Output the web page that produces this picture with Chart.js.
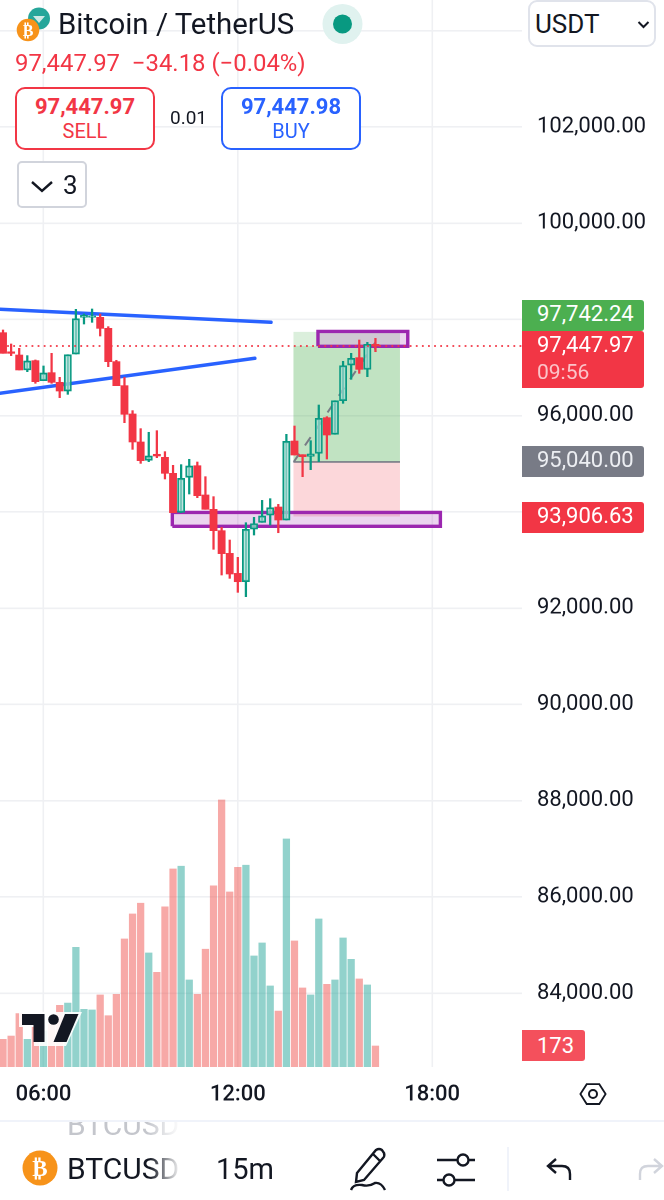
<!DOCTYPE html>
<html>
<head>
<meta charset="utf-8">
<script src="https://cdn.jsdelivr.net/npm/chart.js@4"></script>
<style>
html,body{margin:0;padding:0;background:#fff;width:664px;height:1200px;overflow:hidden;font-family:Roboto,sans-serif;color:#131722}
#wrap{position:relative;width:664px;height:1200px;overflow:hidden}
canvas{position:absolute;left:0;top:0}
.a{position:absolute;white-space:nowrap}
.tag{position:absolute;left:522px;width:122px;color:#fff;font-size:22px;line-height:28px;text-align:left;padding-left:15px;box-sizing:border-box;border-radius:0 3px 3px 0}
.btn{position:absolute;top:87px;width:140px;height:63px;box-sizing:border-box;border:2px solid;border-radius:10px;text-align:center;background:#fff}
.btn b{display:block;font-size:22px;font-weight:700;line-height:24px;margin-top:6px}
.btn span{display:block;font-size:20px;line-height:25px}
</style>
</head>
<body>
<div id="wrap">
<canvas id="c" width="664" height="1120"></canvas>

<!-- volume watermark logo -->
<svg class="a" style="left:18px;top:1009px" width="66" height="40" viewBox="18 1009 66 40">
  <path d="M19 1012 H82 L66 1046 H34 V1027 H19 Z" fill="#fff" opacity=".9"/>
  <path d="M22 1014 H44.5 V1042 H33.5 V1025 H22 Z" fill="#131722"/>
  <circle cx="53.5" cy="1019.5" r="5.3" fill="#131722"/>
  <path d="M65 1014 H78.5 L66.5 1042 H53.5 Z" fill="#131722"/>
</svg>

<!-- header -->
<svg class="a" style="left:14px;top:6px" width="40" height="38" viewBox="14 6 40 38">
  <circle cx="39" cy="18.5" r="11" fill="#26a69a"/>
  <path d="M33 16 h12 l-6 7z" fill="#cfe9e5"/>
  <circle cx="28" cy="30" r="11.3" fill="#f7931a"/>
  <text x="28" y="36" text-anchor="middle" font-size="16" font-weight="700" fill="#fff" font-family="Roboto">₿</text>
</svg>
<div class="a" style="left:58px;top:7px;font-size:29.4px;line-height:34px">Bitcoin / TetherUS</div>
<svg class="a" style="left:322px;top:4px" width="41" height="41"><circle cx="20.5" cy="20" r="20" fill="#e0f2ef"/><circle cx="20.5" cy="20" r="9.5" fill="#089981"/></svg>
<div class="a" style="left:15px;top:48px;font-size:23.9px;line-height:30px;color:#f23645;white-space:pre">97,447.97  −34.18 (−0.04%)</div>

<div class="btn" style="left:15px;border-color:#f23645;color:#f23645"><b>97,447.97</b><span>SELL</span></div>
<div class="a" style="left:170px;top:106px;font-size:19px;line-height:24px">0.01</div>
<div class="btn" style="left:221px;border-color:#2962ff;color:#2962ff"><b>97,447.98</b><span>BUY</span></div>

<div class="a" style="left:17px;top:161px;width:70px;height:47px;box-sizing:border-box;border:2px solid #d1d4dc;border-radius:5px;background:#fff">
  <svg class="a" style="left:11px;top:16px" width="24" height="16"><path d="M2 3 L12 12 L22 3" fill="none" stroke="#131722" stroke-width="2.4"/></svg>
  <span class="a" style="left:44px;top:7px;font-size:26px;line-height:30px">3</span>
</div>

<!-- currency selector -->
<div class="a" style="left:528px;top:0;width:128px;height:47px;box-sizing:border-box;border:2px solid #e0e3eb;border-radius:9px;background:#fff">
  <span class="a" style="left:5px;top:6px;font-size:26px;line-height:32px">USDT</span>
  <svg class="a" style="left:107px;top:18px" width="14" height="10"><path d="M1.5 2 L6.5 7 L11.5 2" fill="none" stroke="#131722" stroke-width="2"/></svg>
</div>

<!-- price tags -->
<div class="tag" style="top:300px;height:31px;background:#4caf50">97,742.24</div>
<div class="tag" style="top:331px;height:57px;background:#f23645">97,447.97<div style="margin-top:0;color:#fbc4c9;font-size:21px;line-height:26px">09:56</div></div>
<div class="tag" style="top:446px;height:31px;background:#787b86;color:#eceef2">95,040.00</div>
<div class="tag" style="top:502px;height:31px;background:#f23645">93,906.63</div>
<div class="tag" style="top:1030px;height:31px;width:63px;line-height:31px;background:#f4505c;padding-left:15px">173</div>

<!-- axis settings icon -->
<svg class="a" style="left:578px;top:1080px" width="30" height="28"><path d="M8 3 H22 L29 14 L22 25 H8 L1 14 Z" fill="none" stroke="#131722" stroke-width="2" transform="translate(1.5 1.5) scale(.9)"/><circle cx="15" cy="14" r="4" fill="none" stroke="#131722" stroke-width="2"/></svg>

<!-- bottom toolbar -->
<div class="a" style="left:0;top:1120px;width:664px;height:80px;background:#fff;border-top:2px solid #f0f3fa;box-sizing:border-box"></div>
<div class="a" style="left:67px;top:1122px;height:14px;width:114px;overflow:hidden;-webkit-mask-image:linear-gradient(to right,#000 70%,transparent)">
  <div style="margin-top:-12px;font-size:30px;line-height:30px;color:#c4c6cc">BTCUSD</div>
</div>
<svg class="a" style="left:22px;top:1149px" width="36" height="38"><circle cx="18" cy="19" r="17.5" fill="#f7931a"/><text x="18" y="27" text-anchor="middle" font-size="23" font-weight="700" fill="#fff" font-family="Roboto">₿</text></svg>
<div class="a" style="left:67px;top:1152px;width:114px;height:36px;overflow:hidden;font-size:30px;line-height:34px;-webkit-mask-image:linear-gradient(to right,#000 72%,transparent)">BTCUSD</div>
<div class="a" style="left:216px;top:1152px;font-size:29px;line-height:34px">15m</div>
<svg class="a" style="left:345px;top:1146px" width="48" height="46" fill="none" stroke="#131722" stroke-width="2.4"><path d="M12 27 L31 4 Q34 2 37 4 L39 7 Q40 10 38 12 L19 34 L11 36 Z M28 8 L35 15"/><path d="M6 44 Q8 38 17 39 Q24 41 30 37 Q36 36 40 44"/></svg>
<svg class="a" style="left:435px;top:1150px" width="42" height="38" fill="none" stroke="#131722" stroke-width="2.4"><path d="M2 10 H22 M34 10 H40 M2 30 H8 M20 30 H40"/><circle cx="28" cy="10" r="5.5"/><circle cx="14" cy="30" r="5.5"/></svg>
<div class="a" style="left:507px;top:1147px;width:2px;height:44px;background:#f0f3fa"></div>
<svg class="a" style="left:546px;top:1156px" width="28" height="26" fill="none" stroke="#131722" stroke-width="2.4"><path d="M10 3 L2 10 L10 17 M2 10 H16 Q24 10 24 18 V24"/></svg>
<svg class="a" style="left:636px;top:1156px" width="28" height="26" fill="none" stroke="#d1d4dc" stroke-width="2.4"><path d="M18 3 L26 10 L18 17 M26 10 H12 Q4 10 4 18 V24"/></svg>
</div>

<script>
// Candle positions: number of 15-minute bars counted from the 06:00 gridline
const barIndex = [-5,-4,-3,-2,-1,0,1,2,3,4,5,6,7,8,9,10,11,12,13,14,15,16,17,18,19,20,21,22,23,24,25,26,27,28,29,30,31,32,33,34,35,36,37,38,39,40,41];
const opens  = [97725,97324,97261,96950,97144,96728,96894,96694,96513,97282,98044,98044,98044,97815,97123,96624,96036,95454,95073,95198,95135,94803,93992,94720,94962,94353,94055,93611,93140,92724,92551,93645,93784,93937,94103,93833,95474,95190,95156,95218,95959,95613,96312,97053,97206,96963,97483];
const highs  = [97781,97490,97400,97248,97158,97033,97296,96797,97268,98210,98113,98217,98113,97850,97151,96797,96105,95731,95655,95689,95253,94969,94983,95094,95038,94733,94318,93681,93417,93057,93777,93888,94241,94276,94158,95613,95786,95190,95481,96222,95980,96312,97130,97296,97573,97524,97607];
const lows   = [97296,97248,96950,96915,96673,96728,96673,96375,96444,97282,97905,97940,97656,97019,96624,95855,95301,95010,95045,95128,94685,93985,93985,94373,94297,94055,93224,92690,92621,92330,92240,93521,93784,93729,93569,93833,95183,94733,94879,95045,95100,95613,96257,96756,96880,96811,97330];
const closes = [97296,97296,96950,97137,96707,96887,96694,96513,97268,98016,98086,98072,97815,97123,96624,96029,95454,95066,95163,95163,94803,93985,94699,94955,94339,94055,93611,93134,92711,92551,93639,93757,93916,94089,93833,95467,95183,95149,95204,95945,95599,96312,97040,97192,96963,97483,97447.97];
const volumes = [228,255,440,228,379,297,352,508,527,986,475,470,593,423,599,1055,1261,1349,939,780,1319,1632,1654,717,599,970,1492,2200,1442,1645,1662,915,1022,668,461,1879,1038,651,593,1220,681,717,1063,887,725,676,173];
const volumeUp = [0,0,0,1,0,1,0,0,1,1,1,1,0,0,0,0,0,0,1,0,0,0,1,1,0,0,0,0,0,0,1,1,1,1,0,1,0,0,1,1,0,1,1,1,0,1,0];
const priceTicks = [84000,86000,88000,90000,92000,94000,96000,98000,100000,102000,104000];
const coveredPriceLabels = [94000,98000,104000];
const timeTicks = {0:"06:00",24:"12:00",48:"18:00"};

const upperTrendX = [-5.4,28.1], upperTrendY = [98211,97941];
const lowerTrendX = [-5.4,26.1], lowerTrendY = [96465,97193];
const lastPrice = 97447.97;
const positionX = [30.86,44.03], targetPrice = 97742.24, entryPrice = 95040, stopPrice = 93906.63;
const pathX = [30.9,40.83,41.23], pathY = [95040,97483,97193];
const zoneTopX = [33.9,44.99], zoneTopY = [97442,97751];
const zoneLowX = [15.91,49.02], zoneLowY = [93702,93991];

const RED='#f23645', GREEN='#089981', BLUE='#2962ff', PURPLE='#9c27b0', GREY='#787b86', GRID='#eff0f3';

const body = (want) => barIndex.map((x,i)=>({x,y:[opens[i],closes[i]]})).filter((d,i)=>(closes[i]>=opens[i])===want);
const wick = (want) => barIndex.map((x,i)=>({x,y:[lows[i],highs[i]]})).filter((d,i)=>(closes[i]>=opens[i])===want);
const seg = (xs,ys)=>xs.map((x,i)=>({x,y:ys[i]}));
const band = (xs,top,bottom,color,order)=>({type:'line',data:seg(xs,[top,top]),yAxisID:'y',fill:{value:bottom},backgroundColor:color,borderWidth:0,pointRadius:0,order});
const outline = (xs,ys,order)=>({type:'line',data:seg([xs[0],xs[1],xs[1],xs[0],xs[0]],[ys[0],ys[0],ys[1],ys[1],ys[0]]),yAxisID:'y',borderColor:PURPLE,borderWidth:3.4,borderJoinStyle:'miter',pointRadius:0,fill:false,order});
const lineDs = (xs,ys,color,w,extra,order)=>Object.assign({type:'line',data:seg(xs,ys),yAxisID:'y',borderColor:color,borderWidth:w,pointRadius:0,fill:false,order},extra);

new Chart(document.getElementById('c'),{
  data:{datasets:[
    {type:'bar',label:'vol up',data:barIndex.map((x,i)=>({x,y:volumes[i]})).filter((d,i)=>volumeUp[i]),yAxisID:'v',backgroundColor:'rgba(38,166,154,.5)',barThickness:6.6,grouped:false,order:20},
    {type:'bar',label:'vol down',data:barIndex.map((x,i)=>({x,y:volumes[i]})).filter((d,i)=>!volumeUp[i]),yAxisID:'v',backgroundColor:'rgba(239,83,80,.5)',barThickness:6.6,grouped:false,order:20},
    band(positionX,targetPrice,lastPrice,'rgba(76,175,80,.2)',12),
    band(positionX,lastPrice,entryPrice,'rgba(76,175,80,.35)',12),
    band(positionX,entryPrice,stopPrice,'rgba(242,54,69,.2)',12),
    lineDs(positionX,[entryPrice,entryPrice],GREY,1.6,{},11),
    lineDs(pathX,pathY,GREY,2,{borderDash:[10,10]},11),
    band(zoneTopX,zoneTopY[1],zoneTopY[0],'rgba(156,39,176,.2)',10),
    band(zoneLowX,zoneLowY[1],zoneLowY[0],'rgba(156,39,176,.2)',10),
    outline(zoneTopX,zoneTopY,10),
    outline(zoneLowX,zoneLowY,10),
    lineDs(upperTrendX,upperTrendY,BLUE,3.5,{borderCapStyle:'round'},9),
    lineDs(lowerTrendX,lowerTrendY,BLUE,3.5,{borderCapStyle:'round'},9),
    {type:'bar',label:'wick up',data:wick(true),yAxisID:'y',backgroundColor:GREEN,barThickness:1.6,grouped:false,order:5},
    {type:'bar',label:'wick down',data:wick(false),yAxisID:'y',backgroundColor:RED,barThickness:1.6,grouped:false,order:5},
    {type:'bar',label:'body up',data:body(true),yAxisID:'y',backgroundColor:'rgba(255,255,255,.45)',borderColor:GREEN,borderWidth:1.6,borderSkipped:false,barThickness:7.2,grouped:false,order:4},
    {type:'bar',label:'body down',data:body(false),yAxisID:'y',backgroundColor:RED,barThickness:7.2,grouped:false,minBarLength:1.5,order:4},
    lineDs([-6,60],[lastPrice,lastPrice],RED,1.8,{borderDash:[1.8,4.3]},1)
  ]},
  options:{
    responsive:false,animation:false,devicePixelRatio:2,
    layout:{padding:0},
    plugins:{legend:{display:false},tooltip:{enabled:false}},
    scales:{
      x:{type:'linear',position:'bottom',min:-5.373,max:59.1,offset:false,bounds:'data',
        grid:{offset:false,color:GRID,lineWidth:1.6,drawTicks:false},border:{display:false},
        afterFit(s){s.height=53;s.paddingLeft=0;s.paddingRight=0;},
        afterBuildTicks(s){s.ticks=Object.keys(timeTicks).map(v=>({value:+v}));},
        ticks:{autoSkip:false,maxRotation:0,padding:15,color:'#131722',font:{family:'Roboto',size:22,weight:'500'},callback:v=>timeTicks[v]}},
      y:{type:'linear',position:'right',min:82468,max:104637,bounds:'data',
        grid:{color:GRID,lineWidth:1.6,drawTicks:false},border:{display:false},
        afterFit(s){s.width=142;s.paddingTop=0;s.paddingBottom=0;},
        afterBuildTicks(s){s.ticks=priceTicks.map(v=>({value:v}));},
        ticks:{autoSkip:false,padding:15,color:'#131722',font:{family:'Roboto',size:22},callback:v=>coveredPriceLabels.includes(v)?'':v.toLocaleString('en-US',{minimumFractionDigits:2,maximumFractionDigits:2})}},
      v:{type:'linear',display:false,min:0,max:8790}
    }
  }
});
</script>
</body>
</html>
